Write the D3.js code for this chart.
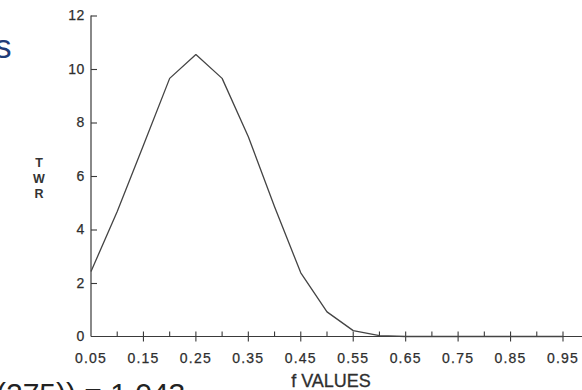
<!DOCTYPE html>
<html>
<head>
<meta charset="utf-8">
<script src="https://cdn.jsdelivr.net/npm/d3@7"></script>
<style>
  body { margin: 0; background: #fff; }
  svg text { font-family: "Liberation Sans", Arial, sans-serif; }
</style>
</head>
<body>
<div id="chart"></div>
<script>
// f values (x) and TWR
const fValues = [0.05, 0.10, 0.15, 0.20, 0.25, 0.30, 0.35, 0.40, 0.45, 0.50,
                 0.55, 0.60, 0.65, 0.70, 0.75, 0.80, 0.85, 0.90, 0.95];
const twr = [2.43, 4.67, 7.15, 9.65, 10.54, 9.65, 7.47, 4.85, 2.38, 0.92,
             0.22, 0.03, 0, 0, 0, 0, 0, 0, 0];
const xLabels = ["0.05", "0.15", "0.25", "0.35", "0.45", "0.55", "0.65", "0.75", "0.85", "0.95"];
const yTicks = [0, 2, 4, 6, 8, 10, 12];

const W = 582, H = 390;
const svg = d3.select("#chart").append("svg")
  .attr("width", W).attr("height", H);

const x = d3.scaleLinear().domain([0.05, 0.95]).range([91, 563]);
const y = d3.scaleLinear().domain([0, 12]).range([336.5, 15.5]);

const ink = "#3a3a3a";

// y axis, ticks point inward
const yAxis = svg.append("g")
  .attr("transform", `translate(${x(0.05)},0)`)
  .call(d3.axisLeft(y).tickValues(yTicks).tickSize(-6).tickPadding(6));
yAxis.select(".domain").attr("stroke", ink).attr("stroke-width", 1.2)
  .attr("d", `M0,${y(12)}V${y(0)}`);
yAxis.selectAll(".tick line").attr("stroke", ink).attr("stroke-width", 1.1);
yAxis.selectAll(".tick").filter(d => d === 0).select("line").remove();
yAxis.selectAll("text")
  .attr("fill", "#2e2e2e").attr("font-size", 14).attr("letter-spacing", 0.6)
  .attr("stroke", "#2e2e2e").attr("stroke-width", 0.25);

// x axis line
svg.append("line")
  .attr("x1", x(0.05)).attr("x2", W)
  .attr("y1", y(0)).attr("y2", y(0))
  .attr("stroke", ink).attr("stroke-width", 1.2);

// major ticks (cross the axis) and minor ticks (up only)
const majors = xLabels.map(Number);
const minors = fValues.filter(v => !majors.some(m => Math.abs(m - v) < 1e-9));
svg.selectAll(".major").data(majors.slice(1)).enter().append("line")
  .attr("x1", d => x(d)).attr("x2", d => x(d))
  .attr("y1", y(0) - 5).attr("y2", y(0) + 5)
  .attr("stroke", ink).attr("stroke-width", 1.1);
svg.selectAll(".minor").data(minors).enter().append("line")
  .attr("x1", d => x(d)).attr("x2", d => x(d))
  .attr("y1", y(0) - 5).attr("y2", y(0))
  .attr("stroke", ink).attr("stroke-width", 1.1);

svg.selectAll(".xlab").data(xLabels).enter().append("text")
  .attr("x", d => x(+d)).attr("y", 363)
  .attr("text-anchor", "middle")
  .attr("fill", "#2e2e2e").attr("font-size", 14).attr("letter-spacing", 1.2)
  .attr("stroke", "#2e2e2e").attr("stroke-width", 0.25)
  .text(d => d);

// curve
const line = d3.line()
  .x((d, i) => x(fValues[i]))
  .y(d => y(d));
svg.append("path")
  .datum(twr)
  .attr("fill", "none")
  .attr("stroke", "#444")
  .attr("stroke-width", 1.3)
  .attr("stroke-linejoin", "round")
  .attr("d", line);

// axis titles
svg.append("text")
  .attr("x", 331).attr("y", 387)
  .attr("text-anchor", "middle")
  .attr("fill", "#2e2e2e").attr("font-size", 18)
  .attr("stroke", "#2e2e2e").attr("stroke-width", 0.3)
  .text("f VALUES");

const twrLabel = svg.append("text")
  .attr("x", 39).attr("y", 167)
  .attr("text-anchor", "middle")
  .attr("fill", "#333").attr("font-size", 12.5).attr("font-weight", "bold");
["T", "W", "R"].forEach((c, i) => {
  twrLabel.append("tspan").attr("x", 39).attr("dy", i ? 15.5 : 0).text(c);
});

// cropped surrounding page text
svg.append("text")
  .attr("x", -5).attr("y", 58)
  .attr("fill", "#1f3c78").attr("font-size", 33)
  .attr("font-family", "'Open Sans', sans-serif")
  .text("s");
svg.append("text")
  .attr("x", -4).attr("y", 404)
  .attr("fill", "#222").attr("font-size", 30)
  .attr("font-family", "'Open Sans', sans-serif")
  .text("(275)) = 1.043");
</script>
</body>
</html>
